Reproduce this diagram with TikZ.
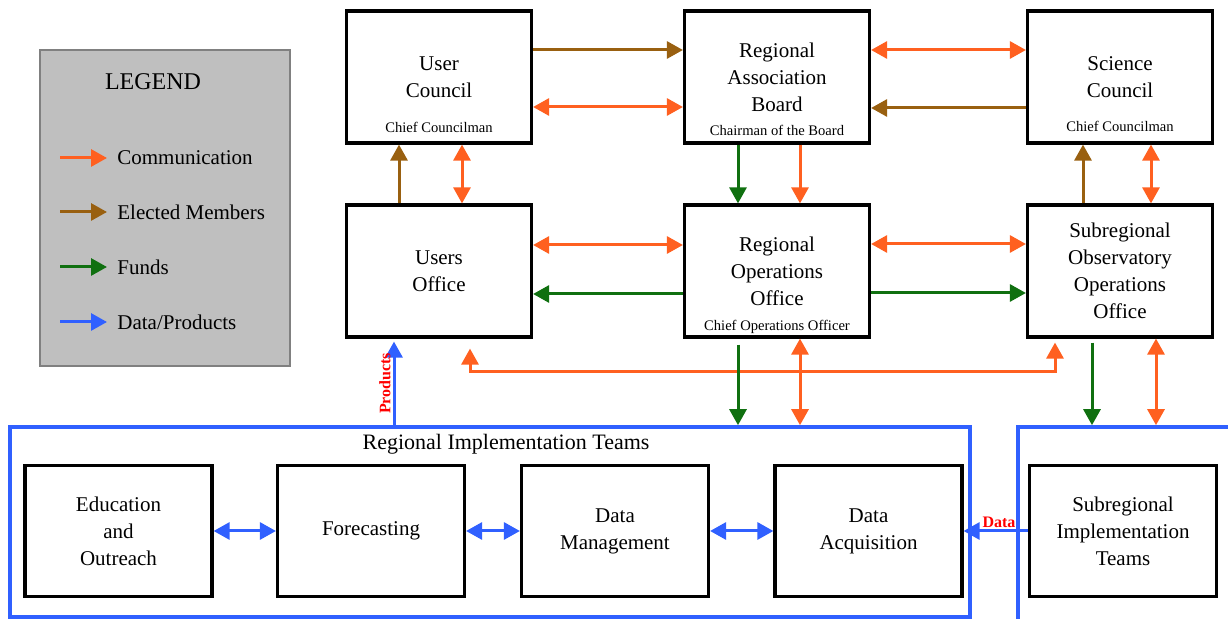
\documentclass[tikz,border=0pt]{standalone}
\usepackage{fontspec}
\setmainfont{Liberation Serif}
\usetikzlibrary{arrows.meta,positioning,calc}

\definecolor{commcol}{RGB}{255,96,32}
\definecolor{electcol}{RGB}{153,96,16}
\definecolor{fundcol}{RGB}{16,112,16}
\definecolor{datacol}{RGB}{48,96,255}

\tikzset{
  box/.style={draw, line width=1.6pt, minimum width=92.5pt, minimum height=66pt,
    align=center, inner sep=2pt, font=\fontsize{10.5}{13.5}\selectfont},
  team/.style={box, minimum width=93.5pt, minimum height=65.5pt},
  sub/.style={inner sep=0pt, font=\fontsize{7.3}{8}\selectfont},
  frame/.style={draw=datacol, line width=1.8pt},
  legendbox/.style={draw=black!50, fill=black!25, line width=0.8pt,
    minimum width=125pt, minimum height=158pt},
  legtext/.style={inner sep=2pt, font=\fontsize{10.5}{12}\selectfont},
  comm/.style={draw=commcol, line width=1.5pt},
  elect/.style={draw=electcol, line width=1.5pt},
  fund/.style={draw=fundcol, line width=1.5pt},
  data/.style={draw=datacol, line width=1.5pt},
  datalabel/.style={text=red, inner sep=1pt, font=\bfseries\fontsize{8}{9}\selectfont}
}

\begin{document}
\begin{tikzpicture}[x=0.5pt, y=-0.5pt, >={Triangle[length=8pt,width=8.5pt]}]
  \useasboundingbox (0,0) rectangle (1228,619);
  \clip (0,0) rectangle (1228,619);

  % legend
  \node[legendbox] (legend) at (165,208) {};
  \node[font=\fontsize{12}{14}\selectfont] (legendtitle) at (153,82) {LEGEND};
  \foreach \y/\col/\txt [count=\i] in {158/commcol/Communication, 212/electcol/Elected Members,
      267/fundcol/Funds, 322/datacol/{Data/Products}} {
    \coordinate (leg\i a) at (60,\y);
    \coordinate (leg\i b) at (107,\y);
    \draw[draw=\col, line width=1.5pt, ->] (leg\i a) -- (leg\i b);
    \node[legtext, anchor=west] (legtxt\i) at (113,\y) {\txt};
  }

  % top rows
  \node[box] (uc) at (439,77) {User\\Council};
  \node[sub] (ucsub) at ([yshift=8.5pt]uc.south) {Chief Councilman};
  \node[box] (rab) at (777,77) {Regional\\Association\\Board};
  \node[sub] (rabsub) at ([yshift=7pt]rab.south) {Chairman of the Board};
  \node[box] (sc) at (1120,77) {Science\\Council};
  \node[sub] (scsub) at ([yshift=9pt]sc.south) {Chief Councilman};

  \node[box] (uo) at (439,271) {Users\\Office};
  \node[box] (roo) at (777,271) {Regional\\Operations\\Office};
  \node[sub] (roosub) at ([yshift=6pt]roo.south) {Chief Operations Officer};
  \node[box] (sooo) at (1120,271) {Subregional\\Observatory\\Operations\\Office};

  % implementation teams
  \node[frame, minimum width=480pt, minimum height=95pt] (rit) at (490,522) {};
  \node[frame, minimum width=111pt, minimum height=99pt] (sitframe) at (1129,526) {};
  \node[font=\fontsize{11}{13}\selectfont] (rittitle) at (506,444) {Regional Implementation Teams};

  \node[team] (eo) at (118.5,531) {Education\\and\\Outreach};
  \node[team] (fc) at (371,531) {Forecasting};
  \node[team] (dm) at (615,531) {Data\\Management};
  \node[team] (da) at (868.5,531) {Data\\Acquisition};
  \node[team] (sit) at (1123,531) {Subregional\\Implementation\\Teams};

  % connectors
  \draw[elect,->] ([yshift=13.5pt]uc.east) -- ([yshift=13.5pt]rab.west);
  \draw[comm,<->] ([yshift=-15pt]uc.east) -- ([yshift=-15pt]rab.west);
  \draw[comm,<->] ([yshift=13.5pt]rab.east) -- ([yshift=13.5pt]sc.west);
  \draw[elect,->] ([yshift=-15.5pt]sc.west) -- ([yshift=-15.5pt]rab.east);

  \draw[elect,->] ([xshift=-20pt]uo.north) -- ([xshift=-20pt]uc.south);
  \draw[comm,<->] ([xshift=11.5pt]uo.north) -- ([xshift=11.5pt]uc.south);
  \draw[fund,->] ([xshift=-19.5pt]rab.south) -- ([xshift=-19.5pt]roo.north);
  \draw[comm,->] ([xshift=11.5pt]rab.south) -- ([xshift=11.5pt]roo.north);
  \draw[elect,->] ([xshift=-18.5pt]sooo.north) -- ([xshift=-18.5pt]sc.south);
  \draw[comm,<->] ([xshift=15.5pt]sooo.north) -- ([xshift=15.5pt]sc.south);

  \draw[comm,<->] ([yshift=13pt]uo.east) -- ([yshift=13pt]roo.west);
  \draw[fund,->] ([yshift=-11.5pt]roo.west) -- ([yshift=-11.5pt]uo.east);
  \draw[comm,<->] ([yshift=13.5pt]roo.east) -- ([yshift=13.5pt]sooo.west);
  \draw[fund,->] ([yshift=-11pt]roo.east) -- ([yshift=-11pt]sooo.west);

  \coordinate (bus) at (760,372);
  \draw[comm,<->] ([xshift=15.5pt,yshift=-5pt]uo.south) |- (bus)
    -| ([xshift=-32.5pt,yshift=-2pt]sooo.south);

  \draw[fund,->] ([xshift=-19.5pt,yshift=-3pt]roo.south) -- ($(roo.south |- rit.north)+(-19.5pt,0)$);
  \draw[comm,<->] ([xshift=11.5pt]roo.south) -- ($(roo.south |- rit.north)+(11.5pt,0)$);
  \draw[fund,->] ([xshift=-14pt,yshift=-2pt]sooo.south) -- ($(sooo.south |- sitframe.north)+(-14pt,0)$);
  \draw[comm,<->] ([xshift=18pt]sooo.south) -- ($(sooo.south |- sitframe.north)+(18pt,0)$);

  \draw[data,->] ($(uo.south |- rit.north)+(-22.5pt,0)$) --
    node[datalabel, rotate=90, anchor=south, pos=0.5] (prodlabel) {Products}
    ([xshift=-22.5pt,yshift=-1.5pt]uo.south);

  \draw[data,<->] (eo.east) -- (fc.west);
  \draw[data,<->] (fc.east) -- (dm.west);
  \draw[data,<->] (dm.east) -- (da.west);
  \draw[data,->] (sit.west) -- node[datalabel, above, pos=0.45] (datalbl) {Data} (da.east);
\end{tikzpicture}
\end{document}
